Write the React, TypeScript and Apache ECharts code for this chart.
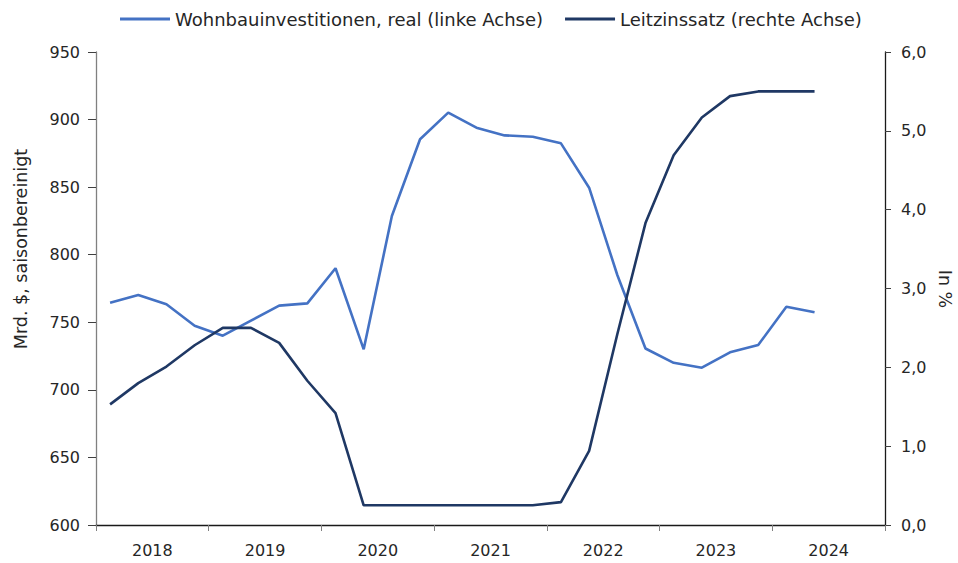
import React, { useEffect, useRef } from "react";
import * as echarts from "echarts";

const years = ["2018", "2019", "2020", "2021", "2022", "2023", "2024"];
const quarters = years.flatMap((y) => ["Q1", "Q2", "Q3", "Q4"].map((q) => `${q} ${y}`));

const investment = [
  764.5, 770.2, 763.3, 747.5, 740.1, 751.2, 762.3, 764.0,
  790.0, 730.0, 828.6, 885.4, 905.1, 894.0, 888.3, 887.3,
  882.4, 849.6, 785.0, 730.6, 720.0, 716.4, 727.8, 733.2,
  761.5, 757.4,
];
const policyRate = [
  1.53, 1.80, 2.01, 2.28, 2.50, 2.50, 2.31, 1.83,
  1.42, 0.25, 0.25, 0.25, 0.25, 0.25, 0.25, 0.25,
  0.29, 0.94, 2.42, 3.83, 4.69, 5.17, 5.44, 5.50,
  5.50, 5.50,
];
const leftTicks = { min: 600, max: 950, interval: 50 };
const rightTicks = { min: 0, max: 6, interval: 1 };
const seriesNames = ["Wohnbauinvestitionen, real (linke Achse)", "Leitzinssatz (rechte Achse)"];
const axisNames = ["Mrd. $, saisonbereinigt", "In %"];

const FONT = "DejaVu Sans";
const TXT = "#262626";

export default function App() {
  const ref = useRef<HTMLDivElement>(null);
  useEffect(() => {
    if (!ref.current) return;
    const chart = echarts.init(ref.current, undefined, { renderer: "svg" });
    chart.setOption({
      animation: false,
      backgroundColor: "#ffffff",
      textStyle: { fontFamily: FONT, color: TXT },
      legend: {
        top: 5,
        left: 115,
        itemWidth: 50,
        itemHeight: 3,
        itemGap: 22,
        icon: "rect",
        textStyle: { fontFamily: FONT, fontSize: 18, color: TXT },
        data: seriesNames,
      },
      grid: { left: 96, right: 73, top: 52, bottom: 38, containLabel: false },
      xAxis: [
        {
          type: "category",
          data: quarters,
          boundaryGap: true,
          show: false,
        },
        {
          type: "category",
          data: years,
          boundaryGap: true,
          position: "bottom",
          axisLine: { lineStyle: { color: "#1a1a1a", width: 1.3 } },
          axisTick: { show: true, alignWithLabel: false, length: 6, lineStyle: { color: "#808080" } },
          axisLabel: { fontFamily: FONT, fontSize: 16, color: TXT, margin: 17 },
        },
      ],
      yAxis: [
        {
          type: "value",
          ...leftTicks,
          position: "left",
          splitLine: { show: false },
          axisLine: { show: true, lineStyle: { color: "#808080", width: 1.3 } },
          axisTick: { show: true, length: 8, lineStyle: { color: "#404040" } },
          axisLabel: { fontFamily: FONT, fontSize: 16, color: TXT, margin: 16 },
        },
        {
          type: "value",
          ...rightTicks,
          position: "right",
          splitLine: { show: false },
          axisLine: { show: true, lineStyle: { color: "#1a1a1a", width: 1.3 } },
          axisTick: { show: true, length: 6, lineStyle: { color: "#404040" } },
          axisLabel: {
            fontFamily: FONT,
            fontSize: 16,
            color: TXT,
            margin: 16,
            formatter: (v: number) => v.toFixed(1).replace(".", ","),
          },
        },
      ],
      graphic: [
        {
          type: "text",
          x: 21,
          y: 249,
          rotation: Math.PI / 2,
          style: {
            text: axisNames[0],
            font: `17.5px "${FONT}"`,
            fill: TXT,
            align: "center",
            verticalAlign: "middle",
          },
        },
        {
          type: "text",
          x: 945,
          y: 289,
          rotation: -Math.PI / 2,
          style: {
            text: axisNames[1],
            font: `17.5px "${FONT}"`,
            fill: TXT,
            align: "center",
            verticalAlign: "middle",
          },
        },
      ],
      series: [
        {
          name: seriesNames[0],
          type: "line",
          xAxisIndex: 0,
          yAxisIndex: 0,
          data: investment,
          symbol: "none",
          lineStyle: { color: "#4472C4", width: 2.6 },
          itemStyle: { color: "#4472C4" },
        },
        {
          name: seriesNames[1],
          type: "line",
          xAxisIndex: 0,
          yAxisIndex: 1,
          data: policyRate,
          symbol: "none",
          lineStyle: { color: "#1F3864", width: 2.6 },
          itemStyle: { color: "#1F3864" },
        },
      ],
    });
    return () => chart.dispose();
  }, []);
  return <div ref={ref} style={{ width: 958, height: 563, position: "fixed", left: 0, top: 0 }} />;
}
